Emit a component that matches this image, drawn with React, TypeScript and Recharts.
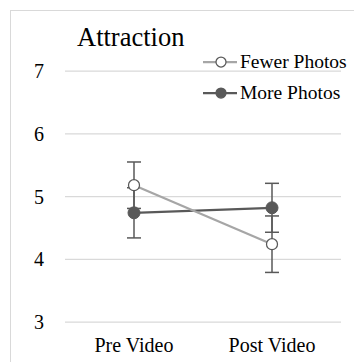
import React from 'react';
import { LineChart, Line, XAxis, YAxis, CartesianGrid, ErrorBar } from 'recharts';

const categories = ['Pre Video', 'Post Video'];
const fewerPhotos = [5.18, 4.24];
const fewerPhotosErr = [0.37, 0.45];
const morePhotos = [4.74, 4.82];
const morePhotosErr = [0.40, 0.39];
const yTicks = [3, 4, 5, 6, 7];
const seriesNames = ['Fewer Photos', 'More Photos'];

const data = categories.map((c, i) => ({
  category: c,
  fewer: fewerPhotos[i],
  fewerErr: fewerPhotosErr[i],
  more: morePhotos[i],
  moreErr: morePhotosErr[i],
}));

const FONT = '"Liberation Serif", "Times New Roman", serif';
const LIGHT = '#a6a6a6';
const DARK = '#595959';

const legendItems = [
  { name: seriesNames[0], line: LIGHT, fill: '#fff' },
  { name: seriesNames[1], line: DARK, fill: DARK },
];

export default function App() {
  return (
    <div style={{ position: 'absolute', left: 0, top: 0, width: 354, height: 363, background: '#fff' }}>
      <div
        style={{
          position: 'absolute',
          left: 10,
          top: 10,
          width: 344,
          height: 352,
          borderLeft: '1px solid #d9d9d9',
          borderTop: '1px solid #d9d9d9',
          boxSizing: 'border-box',
        }}
      />
      <div style={{ position: 'absolute', left: 0, top: 0 }}>
        <LineChart
          width={354}
          height={363}
          data={data}
          margin={{ top: 71, right: 13, bottom: 0, left: 0 }}
          style={{ fontFamily: FONT }}
        >
          <CartesianGrid horizontal vertical={false} stroke="#d9d9d9" strokeWidth={1.25} />
          <XAxis
            dataKey="category"
            height={41}
            axisLine={false}
            tickLine={false}
            tickSize={0}
            tickMargin={16}
            padding={{ left: 69, right: 69 }}
            tick={{ fill: '#000', fontSize: 20, fontFamily: FONT }}
          />
          <YAxis
            domain={[3, 7]}
            ticks={yTicks}
            width={65}
            axisLine={false}
            tickLine={false}
            tickSize={0}
            tickMargin={21}
            tick={{ fill: '#000', fontSize: 20, fontFamily: FONT }}
          />
          <Line
            dataKey="more"
            name={seriesNames[1]}
            stroke={DARK}
            strokeWidth={2.25}
            dot={{ r: 6, fill: DARK, stroke: DARK, strokeWidth: 1 }}
            isAnimationActive={false}
          >
            <ErrorBar dataKey="moreErr" width={7} stroke={DARK} strokeWidth={1.5} />
          </Line>
          <Line
            dataKey="fewer"
            name={seriesNames[0]}
            stroke={LIGHT}
            strokeWidth={2.25}
            dot={{ r: 5.5, fill: '#fff', stroke: DARK, strokeWidth: 1.25 }}
            isAnimationActive={false}
          >
            <ErrorBar dataKey="fewerErr" width={7} stroke={DARK} strokeWidth={1.5} />
          </Line>
        </LineChart>
      </div>
      <div
        style={{
          position: 'absolute',
          left: 77,
          top: 22,
          fontFamily: FONT,
          fontSize: 26.5,
          lineHeight: '30px',
          color: '#000',
        }}
      >
        Attraction
      </div>
      <div style={{ position: 'absolute', left: 203, top: 46, fontFamily: FONT, fontSize: 19.5, color: '#000' }}>
        {legendItems.map((it) => (
          <div key={it.name} style={{ display: 'flex', alignItems: 'center', height: 31 }}>
            <svg width={37} height={14} style={{ display: 'block' }}>
              <line x1={0} y1={7} x2={34} y2={7} stroke={it.line} strokeWidth={2.25} />
              <circle cx={18} cy={7} r={5} fill={it.fill} stroke={DARK} strokeWidth={1.25} />
            </svg>
            <span style={{ lineHeight: '22px', whiteSpace: 'nowrap' }}>{it.name}</span>
          </div>
        ))}
      </div>
    </div>
  );
}
